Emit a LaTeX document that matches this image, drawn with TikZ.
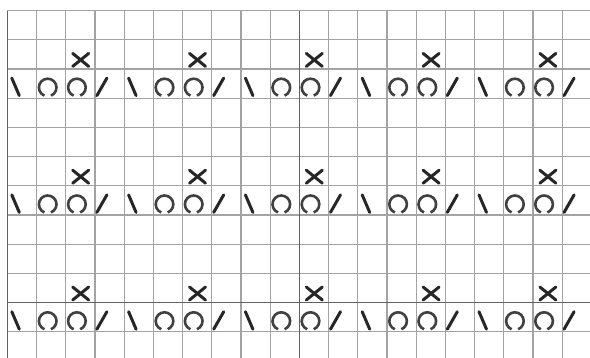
\documentclass[tikz,border=0pt]{standalone}
\begin{document}
\begin{tikzpicture}[x=1pt,y=-1pt,
  gridline/.style={draw=black!36, line width=1.2pt},
  heavyline/.style={draw=black!62, line width=1.6pt},
  sym/.style={draw=black!85, line width=3pt, line cap=round},
  yo/.style={draw=black!75, line width=2.6pt}]
\useasboundingbox (0,0) rectangle (590,358);
\fill[white] (0,0) rectangle (590,358);
\def\cw{29.2}
\begin{scope}
\clip (0,0) rectangle (590,358);
\foreach \i in {1,...,20} \draw[gridline] ({7.3+\i*\cw},10.7) -- ({7.3+\i*\cw},370);
\foreach \j in {0,...,12} \draw[gridline] (7.3,{10.7+\j*\cw}) -- (600,{10.7+\j*\cw});
\draw[heavyline] (7.3,10.7) -- (7.3,370);
\draw[heavyline] ({7.3+10*\cw},10.7) -- ({7.3+10*\cw},370);
\draw[heavyline] (7.3,{10.7+10*\cw}) -- (600,{10.7+10*\cw});
\foreach \g in {0,1,2}{
  \foreach \b in {0,...,4}{
    \pgfmathsetmacro{\L}{7.3+4*\b*\cw}
    \pgfmathsetmacro{\T}{10.7+(2+4*\g)*\cw}
    \pgfmathsetmacro{\U}{10.7+(1+4*\g)*\cw}
    % left-leaning decrease
    \draw[sym] ({\L+4.5},{\T+9}) -- ({\L+12},{\T+26.5});
    % yarn overs
    \draw[yo] ({\L+\cw+11.2+8.8*cos(112)},{\T+18.4+8.8*sin(112)}) arc[start angle=112,end angle=428,radius=8.8];
    \draw[yo] ({\L+2*\cw+11.2+8.8*cos(112)},{\T+18.4+8.8*sin(112)}) arc[start angle=112,end angle=428,radius=8.8];
    % right-leaning decrease
    \draw[sym] ({\L+3*\cw+2},{\T+26.5}) -- ({\L+3*\cw+12},{\T+9});
    % cross
    \draw[sym] ({\L+2*\cw+7},{\U+13.5}) -- ({\L+2*\cw+23},{\U+26.5});
    \draw[sym] ({\L+2*\cw+7},{\U+26.5}) -- ({\L+2*\cw+23},{\U+13.5});
  }
}
\end{scope}
\end{tikzpicture}
\end{document}
